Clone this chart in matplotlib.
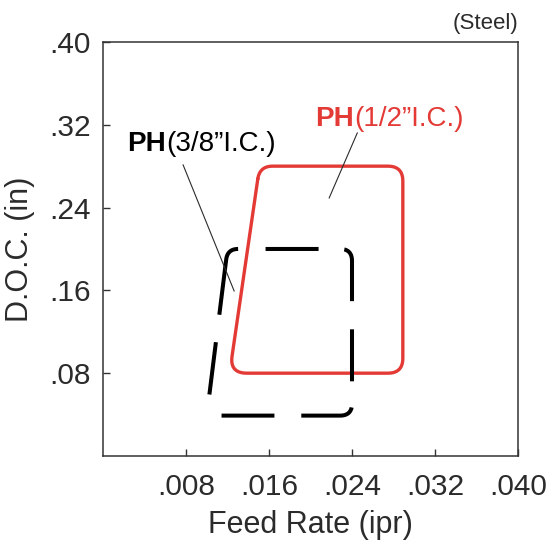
import numpy as np
import matplotlib
matplotlib.use('Agg')
import matplotlib.pyplot as plt

plt.rcParams['font.family'] = ['Liberation Sans', 'DejaVu Sans']
plt.rcParams['lines.scale_dashes'] = False

x_ticks = [0.008, 0.016, 0.024, 0.032, 0.040]
x_labels = ['.008', '.016', '.024', '.032', '.040']
y_ticks = [0.08, 0.16, 0.24, 0.32, 0.40]
y_labels = ['.08', '.16', '.24', '.32', '.40']

# recommended windows, corners: top-left, top-right, bottom-right, bottom-left
half_feed = [0.0151, 0.0289, 0.0289, 0.0122]
half_doc = [0.28, 0.28, 0.08, 0.08]
three8_feed = [0.012, 0.024, 0.024, 0.010]
three8_doc = [0.20, 0.20, 0.039, 0.039]

RED = '#e43a36'
INK = '#2b2b2b'


def rounded_px(ax, xs, ys, r=14, n=16):
    # rounded polygon, built in pixel space so corners stay circular
    pts = ax.transData.transform(np.column_stack([xs, ys]))
    k = len(pts)
    arcs = []
    for i in range(k):
        p, a, b = pts[i], pts[i - 1], pts[(i + 1) % k]
        d1 = (a - p) / np.linalg.norm(a - p)
        d2 = (b - p) / np.linalg.norm(b - p)
        th = np.arccos(np.clip(d1 @ d2, -1, 1))
        t = r / np.tan(th / 2)
        p1, p2 = p + d1 * t, p + d2 * t
        s = np.linspace(0, 1, n)[:, None]
        arcs.append((1 - s) ** 2 * p1 + 2 * s * (1 - s) * p + s ** 2 * p2)
    return arcs


fig = plt.figure(figsize=(5.5, 5.47), dpi=100)
ax = fig.add_axes([0.1873, 0.1664, 0.7545, 0.7569])
ax.set_xlim(0, 0.040)
ax.set_ylim(0, 0.40)

# 1/2" I.C. window (solid red)
arcs = rounded_px(ax, half_feed, half_doc, r=15)
pts = np.vstack(arcs + [arcs[0][:1]])
xy = ax.transData.inverted().transform(pts)
ax.plot(xy[:, 0], xy[:, 1], color=RED, lw=2.4, solid_capstyle='round')

# 3/8" I.C. window (dashed black), path starts where the top edge leaves the top-left corner
arcs = rounded_px(ax, three8_feed, three8_doc, r=12)
pts = np.vstack([arcs[0][-1:]] + arcs[1:] + [arcs[0]])
total = np.sqrt((np.diff(pts, axis=0) ** 2).sum(axis=1)).sum()
dash_px = np.array([52.7, 25.6, 55, 28, 51.7, 26, 54, 26.7, 52.6, 30, 52.4, 27.5, 73, 27.3])
dash_px = dash_px * total / dash_px.sum()
k = 72 / fig.dpi
offset = (dash_px.sum() - dash_px[-1]) * k
xy = ax.transData.inverted().transform(pts)
ax.plot(xy[:, 0], xy[:, 1], color='black', lw=2.9,
        linestyle=(offset, tuple(dash_px * k)), dash_capstyle='butt')

# leader lines
ax.plot([0.00772, 0.01264], [0.2812, 0.1594], color=INK, lw=0.8)
ax.plot([0.02451, 0.0218], [0.3121, 0.2493], color=INK, lw=0.8)

t1 = ax.text(0.00232, 0.2947, 'PH', fontsize=20, fontweight='bold', color='black', va='baseline')
ax.annotate('(3/8”I.C.)', xy=(1, 0), xycoords=t1, fontsize=20,
            color='black', va='bottom', ha='left')
t2 = ax.text(0.02045, 0.3188, 'PH', fontsize=20, fontweight='bold', color=RED, va='baseline')
ax.annotate('(1/2”I.C.)', xy=(1, 0), xycoords=t2, fontsize=20,
            color=RED, va='bottom', ha='left')

ax.set_xticks(x_ticks)
ax.set_xticklabels(x_labels)
ax.set_yticks(y_ticks)
ax.set_yticklabels(y_labels)
ax.tick_params(direction='in', length=5, width=1.0, color='#333333',
               labelsize=21.5, labelcolor=INK)
ax.tick_params(axis='x', pad=12)
ax.tick_params(axis='y', pad=9)
for sp in ax.spines.values():
    sp.set_color('#333333')
    sp.set_linewidth(1.1)

ax.set_xlabel('Feed Rate (ipr)', fontsize=22, color=INK, labelpad=7)
ax.set_ylabel('D.O.C. (in)', fontsize=22, color=INK, labelpad=10)
ax.text(1.0, 1.02, '(Steel)', transform=ax.transAxes, ha='right', va='bottom',
        fontsize=16, color=INK)

fig.savefig('out.png', dpi=100)
